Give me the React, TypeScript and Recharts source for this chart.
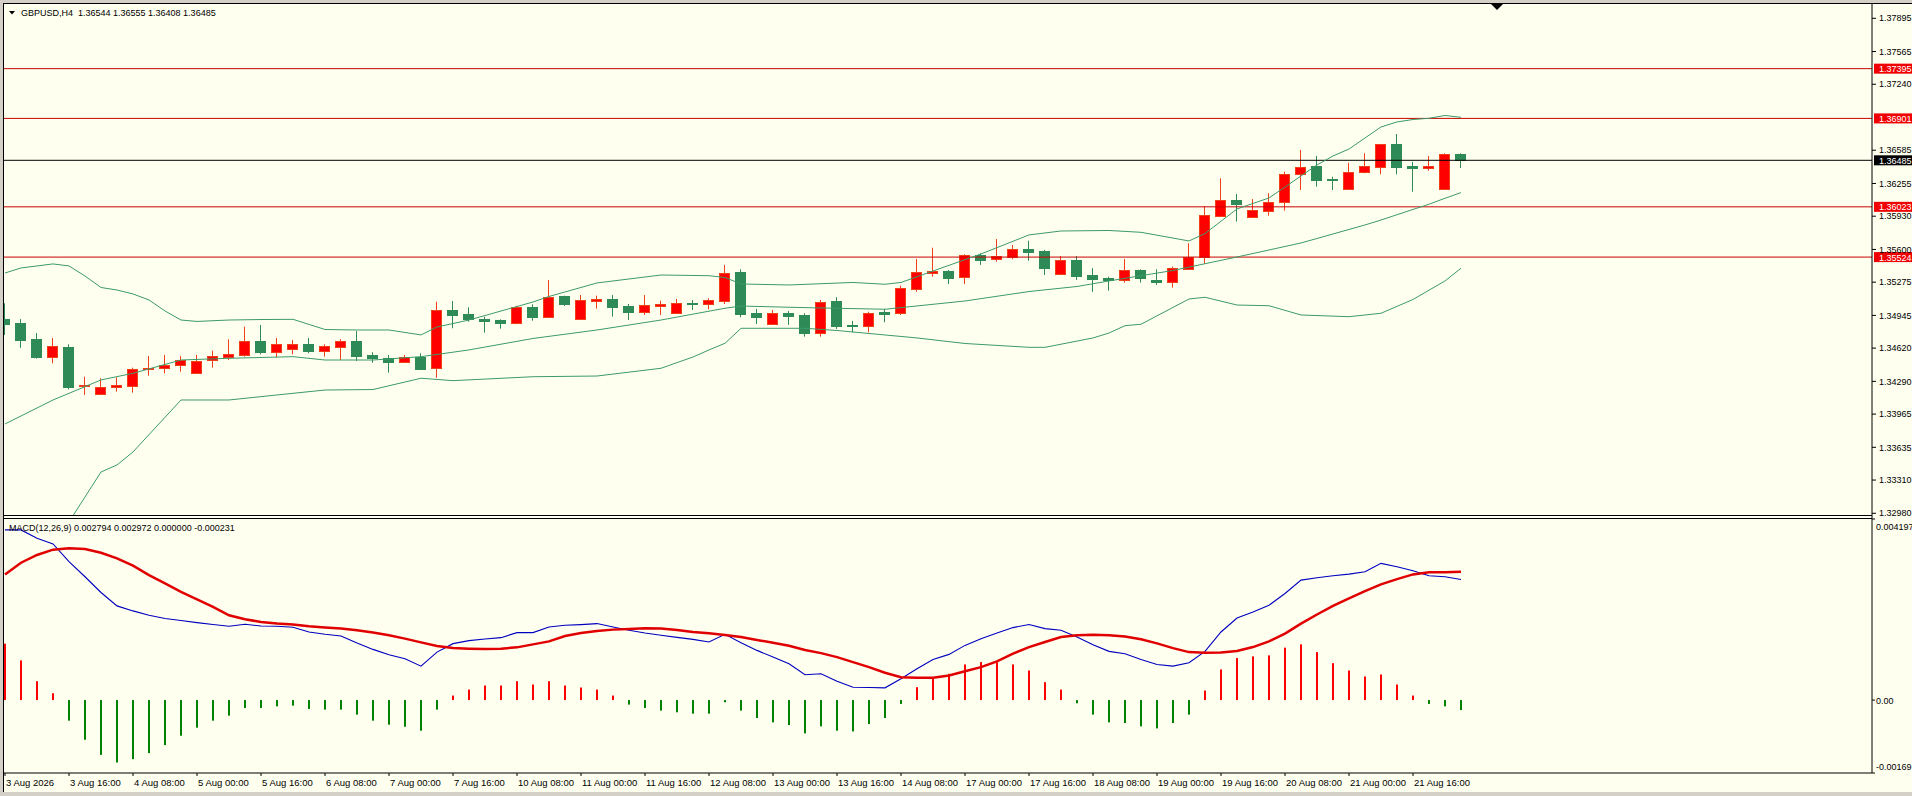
import React from "react";
import { ComposedChart, Bar, Line, XAxis, YAxis, ReferenceLine } from "recharts";

// GBPUSD H4 candles (index 0 = 3 Aug 00:00)
const opens = [
  1.34909, 1.34873, 1.34711, 1.34535, 1.34631, 1.34241, 1.34168, 1.34231, 1.34247, 1.3441,
  1.3442, 1.3445, 1.3437, 1.34502, 1.34535, 1.34555, 1.34691, 1.34585, 1.34609, 1.34661,
  1.34589, 1.34634, 1.34691, 1.34552, 1.34525, 1.34485, 1.34532, 1.3442, 1.34999, 1.34956,
  1.34909, 1.34899, 1.34873, 1.35026, 1.34932, 1.35135, 1.34906, 1.35091, 1.35108, 1.35038,
  1.34982, 1.35041, 1.34972, 1.35071, 1.35061, 1.35091, 1.35376, 1.34966, 1.34857, 1.34969,
  1.34946, 1.34773, 1.35088, 1.3485, 1.34843, 1.34976, 1.34966, 1.35207, 1.35369, 1.35386,
  1.35329, 1.35545, 1.35502, 1.35528, 1.35604, 1.35585, 1.35353, 1.35495, 1.35346, 1.35314,
  1.35297, 1.35396, 1.35297, 1.3528, 1.35406, 1.35522, 1.35935, 1.36091, 1.35925, 1.35985,
  1.36068, 1.36346, 1.36429, 1.36303, 1.36197, 1.36366, 1.36422, 1.36647, 1.36429, 1.36412,
  1.36197, 1.36544,
];
const highs = [
  1.35065, 1.34909, 1.3477, 1.34721, 1.34658, 1.34336, 1.34321, 1.3433, 1.34426, 1.34542,
  1.34552, 1.34542, 1.34552, 1.34595, 1.34708, 1.34833, 1.3485, 1.34721, 1.34701, 1.34721,
  1.34658, 1.34708, 1.3479, 1.34579, 1.34552, 1.34552, 1.34569, 1.35081, 1.35088, 1.35026,
  1.34932, 1.34906, 1.35041, 1.35055, 1.35297, 1.35141, 1.35148, 1.35141, 1.35148, 1.35058,
  1.35148, 1.35091, 1.35108, 1.35098, 1.35115, 1.35446, 1.35403, 1.35009, 1.34999, 1.34989,
  1.34966, 1.35098, 1.35125, 1.3489, 1.34982, 1.35009, 1.3524, 1.35505, 1.35617, 1.35396,
  1.35552, 1.35562, 1.35704, 1.35644, 1.35687, 1.35595, 1.35535, 1.35535, 1.35413, 1.35329,
  1.35505, 1.35403, 1.35403, 1.35429, 1.35661, 1.36031, 1.36307, 1.36151, 1.36101, 1.36158,
  1.36372, 1.36588, 1.36528, 1.36322, 1.36461, 1.36555, 1.36647, 1.36746, 1.36471, 1.36528,
  1.36555, 1.36555,
];
const lows = [
  1.34751, 1.34624, 1.34515, 1.34469, 1.34211, 1.34155, 1.34155, 1.34187, 1.34178, 1.34346,
  1.3437, 1.34386, 1.3437, 1.34426, 1.34502, 1.34535, 1.34559, 1.34529, 1.34559, 1.34569,
  1.34535, 1.34502, 1.34492, 1.34475, 1.34376, 1.34475, 1.34416, 1.34326, 1.34817, 1.34883,
  1.34773, 1.34813, 1.34857, 1.34892, 1.34932, 1.35038, 1.34906, 1.35012, 1.34932, 1.34899,
  1.34949, 1.34949, 1.34972, 1.34999, 1.35006, 1.35058, 1.34926, 1.3486, 1.34857, 1.3485,
  1.34734, 1.34734, 1.3481, 1.34777, 1.34777, 1.34877, 1.34949, 1.3518, 1.35329, 1.35257,
  1.35257, 1.35446, 1.35478, 1.35502, 1.35488, 1.35346, 1.35346, 1.35297, 1.3518, 1.3519,
  1.3527, 1.3527, 1.35247, 1.3522, 1.35396, 1.35456, 1.35935, 1.35876, 1.35925, 1.35935,
  1.35985, 1.3619, 1.36223, 1.3619, 1.36197, 1.36356, 1.36346, 1.36346, 1.36173, 1.36382,
  1.36197, 1.36408,
];
const closes = [
  1.3486, 1.34701, 1.34535, 1.34641, 1.34237, 1.34254, 1.34234, 1.34254, 1.34413, 1.34426,
  1.34453, 1.34502, 1.34495, 1.34542, 1.34562, 1.34691, 1.34585, 1.34661, 1.34661, 1.34595,
  1.34641, 1.34691, 1.34545, 1.34525, 1.34485, 1.34532, 1.34416, 1.34999, 1.34949, 1.34906,
  1.34892, 1.34873, 1.35026, 1.34932, 1.35125, 1.35055, 1.35098, 1.35108, 1.35032, 1.34982,
  1.35045, 1.35055, 1.35065, 1.35061, 1.35095, 1.35363, 1.34959, 1.34926, 1.34966, 1.34942,
  1.34773, 1.35078, 1.3484, 1.34837, 1.34966, 1.34962, 1.35214, 1.35373, 1.35389, 1.35319,
  1.35545, 1.35495, 1.35535, 1.35602, 1.35578, 1.35419, 1.35495, 1.35339, 1.35307, 1.35297,
  1.35396, 1.35314, 1.3528, 1.35413, 1.35522, 1.35942, 1.36091, 1.36048, 1.35992, 1.36068,
  1.36349, 1.36416, 1.3629, 1.3629, 1.36366, 1.36429, 1.36647, 1.36422, 1.36412, 1.36429,
  1.36548, 1.36485,
];

// Bollinger bands, [bar index, price] at the points
const upperBand: [number, number][] = [
  [0, 1.35366], [1, 1.35416], [2, 1.35436], [3, 1.35456], [4, 1.35436], [5, 1.35336],
  [6, 1.35222], [7, 1.35197], [8, 1.35158], [9, 1.35098], [10, 1.34989], [11, 1.34899],
  [12, 1.34885], [14, 1.34899], [16, 1.34904], [18, 1.34906], [20, 1.34805], [22, 1.348],
  [24, 1.348], [26, 1.34751], [27, 1.3483], [29, 1.34899], [33, 1.35078], [34, 1.35133],
  [37, 1.35267], [41, 1.35346], [44, 1.35339], [45, 1.35321], [46, 1.35257], [49, 1.35247],
  [53, 1.35272], [55, 1.35254], [56, 1.35272], [58, 1.35386], [61, 1.35555], [64, 1.35744],
  [66, 1.35783], [69, 1.35788], [71, 1.3577], [74, 1.35684], [75, 1.35758], [77, 1.36002],
  [79, 1.36111], [80, 1.3622], [82, 1.36439], [83, 1.36528], [84, 1.36597], [86, 1.36816],
  [87, 1.36866], [88, 1.3689], [89, 1.36902], [90, 1.3693], [91, 1.36912],
];
const middleBand: [number, number][] = [
  [0, 1.33867], [3, 1.34105], [6, 1.34304], [8, 1.3437], [11, 1.34502], [14, 1.34519],
  [18, 1.34535], [20, 1.34502], [23, 1.34502], [26, 1.34535], [29, 1.34602], [33, 1.34716],
  [37, 1.348], [41, 1.34899], [45, 1.35016], [46, 1.35038], [50, 1.35022], [55, 1.35006],
  [60, 1.35088], [64, 1.35182], [67, 1.35232], [69, 1.35287], [73, 1.35391], [77, 1.35525],
  [81, 1.35664], [85, 1.35843], [86, 1.35892], [88, 1.35997], [89, 1.36049], [90, 1.36108],
  [91, 1.36164],
];
const lowerBand: [number, number][] = [
  [0, 1.32367], [2, 1.32665], [4, 1.32894], [6, 1.3339], [7, 1.3346], [8, 1.33589],
  [11, 1.34105], [14, 1.34105], [17, 1.34155], [20, 1.34204], [23, 1.34209], [26, 1.34321],
  [28, 1.34297], [33, 1.34336], [37, 1.34343], [41, 1.3442], [43, 1.34532], [44, 1.34602],
  [45, 1.34668], [46, 1.34817], [50, 1.34817], [52, 1.34795], [57, 1.34721], [60, 1.34666],
  [64, 1.34628], [65, 1.34628], [68, 1.34721], [69, 1.3477], [70, 1.34843], [71, 1.34857],
  [74, 1.35108], [75, 1.35125], [77, 1.35048], [79, 1.35041], [81, 1.34949], [84, 1.34932],
  [86, 1.34966], [88, 1.35103], [90, 1.35287], [91, 1.35413],
];

// MACD(12,26,9)
const macdMain = [
  0.003944, 0.003944, 0.003751, 0.003618, 0.003207, 0.002858, 0.002494, 0.002183, 0.002067, 0.001966,
  0.00189, 0.001843, 0.001796, 0.00175, 0.00171, 0.001757, 0.001718, 0.00171, 0.001687, 0.001578,
  0.001524, 0.001485, 0.001322, 0.001175, 0.001052, 0.000959, 0.000787, 0.001112, 0.001308, 0.001378,
  0.001415, 0.001447, 0.001564, 0.001564, 0.001694, 0.001734, 0.00175, 0.001773, 0.001694, 0.001617,
  0.001554, 0.001501, 0.001454, 0.001408, 0.001345, 0.001524, 0.001331, 0.001152, 0.000996, 0.000842,
  0.000586, 0.000609, 0.000438, 0.000299, 0.000291, 0.000284, 0.000493, 0.000726, 0.000942, 0.001059,
  0.001268, 0.001424, 0.001554, 0.00168, 0.00175, 0.001657, 0.001617, 0.001461, 0.001284, 0.001129,
  0.001075, 0.000942, 0.000826, 0.000787, 0.000866, 0.001129, 0.001578, 0.001903, 0.002043, 0.002199,
  0.002471, 0.002781, 0.002834, 0.002881, 0.00292, 0.002974, 0.003169, 0.00309, 0.002997, 0.002881,
  0.002858, 0.002794,
];
const macdSignal = [
  0.002913, 0.003184, 0.003363, 0.003486, 0.003518, 0.003502, 0.003416, 0.003286, 0.003114, 0.002897,
  0.002704, 0.002509, 0.002332, 0.002159, 0.001966, 0.001873, 0.00181, 0.001773, 0.00175, 0.00171,
  0.00168, 0.001657, 0.001617, 0.001564, 0.001501, 0.001424, 0.001338, 0.001252, 0.001205, 0.001191,
  0.001182, 0.001191, 0.001222, 0.001291, 0.001361, 0.001485, 0.001554, 0.001601, 0.001633, 0.001648,
  0.001664, 0.001657, 0.001624, 0.001578, 0.001547, 0.001508, 0.001461, 0.001392, 0.001331, 0.001261,
  0.001159, 0.001089, 0.000996, 0.00088, 0.000763, 0.000633, 0.000531, 0.000517, 0.000517, 0.00057,
  0.00067, 0.000763, 0.000896, 0.001075, 0.001229, 0.001345, 0.001461, 0.001501, 0.001517, 0.001501,
  0.001471, 0.001408, 0.001315, 0.001205, 0.001112, 0.001098, 0.001105, 0.001136, 0.001229, 0.001361,
  0.00154, 0.001773, 0.001983, 0.002183, 0.002355, 0.002525, 0.002681, 0.002804, 0.002913, 0.00296,
  0.00296, 0.002972,
];
const macdHist = [
  0.001308, 0.000919, 0.000438, 0.000159, -0.000477, -0.000919, -0.00127, -0.001447, -0.001369, -0.001229,
  -0.001043, -0.000826, -0.00064, -0.000477, -0.000361, -0.000182, -0.000182, -0.000144, -0.000128, -0.000205,
  -0.000221, -0.000221, -0.000337, -0.000477, -0.00057, -0.000617, -0.00071, -0.000221, 0.000105, 0.000244,
  0.000337, 0.000337, 0.000438, 0.000361, 0.000438, 0.000337, 0.000291, 0.000244, 0.000105, -0.000105,
  -0.000182, -0.000244, -0.000283, -0.000314, -0.000314, -0.00005, -0.000244, -0.000415, -0.000516, -0.000578,
  -0.000772, -0.000609, -0.00071, -0.000726, -0.000555, -0.000415, -0.000089, 0.000299, 0.000531, 0.000609,
  0.000826, 0.00088, 0.00088, 0.000826, 0.000686, 0.000415, 0.000244, -0.000074, -0.000337, -0.000516,
  -0.000531, -0.000609, -0.000656, -0.000531, -0.000337, 0.000221, 0.00071, 0.000973, 0.001012, 0.001036,
  0.001215, 0.001291, 0.001112, 0.000856, 0.000686, 0.000547, 0.000593, 0.000361, 0.000105, -0.000089,
  -0.000144, -0.000231,
];

const priceTicks = [
  1.37895, 1.37565, 1.3724, 1.36585, 1.36255, 1.3593, 1.356, 1.35275, 1.34945, 1.3462,
  1.3429, 1.33965, 1.33635, 1.3331, 1.3298,
];
const macdTicks = [0.004197, 0, -0.00169];
const timeLabels = [
  "3 Aug 2026", "3 Aug 16:00", "4 Aug 08:00", "5 Aug 00:00", "5 Aug 16:00", "6 Aug 08:00",
  "7 Aug 00:00", "7 Aug 16:00", "10 Aug 08:00", "11 Aug 00:00", "11 Aug 16:00", "12 Aug 08:00",
  "13 Aug 00:00", "13 Aug 16:00", "14 Aug 08:00", "17 Aug 00:00", "17 Aug 16:00", "18 Aug 08:00",
  "19 Aug 00:00", "19 Aug 16:00", "20 Aug 08:00", "21 Aug 00:00", "21 Aug 16:00",
];
const levels = [1.37395, 1.36901, 1.36023, 1.35524];
const bid = 1.36485;

const FONT = '"Liberation Sans", Arial, sans-serif';
const BG = "#fffff0";
const BULL = "#ff0000";
const BULL_EDGE = "#f0401a";
const BEAR = "#2e8b57";
const BAND = "#3c9a6a";
// one bar = 16px; bar 0 sits 1px inside the left edge of the 1868px plot
const X_DOMAIN: [number, number] = [-0.0625, 116.6875];

function bandAt(points: [number, number][], i: number) {
  const p = points.find((q) => q[0] === i);
  return p ? p[1] : null;
}

const priceData = opens.map((o, i) => ({
  i,
  o,
  h: highs[i],
  l: lows[i],
  c: closes[i],
  range: [lows[i], highs[i]],
  up: bandAt(upperBand, i),
  mid: bandAt(middleBand, i),
  lo: bandAt(lowerBand, i),
}));

const macdData = macdMain.map((m, i) => ({ i, m, s: macdSignal[i], hist: macdHist[i] }));

const timeTickIdx = timeLabels.map((_, k) => k * 4);

function Candle(props: any) {
  const { x, y, width, height, payload } = props;
  if (!payload || x == null) return null;
  const top = Math.min(y, y + height);
  const bottom = Math.max(y, y + height);
  const span = payload.h - payload.l;
  const k = span > 0 ? (bottom - top) / span : 0;
  const py = (p: number) => top + (payload.h - p) * k;
  const cx = Math.floor(x + width / 2) + 0.5;
  const bull = payload.c >= payload.o;
  const bTop = Math.round(py(Math.max(payload.o, payload.c))) + 0.5;
  const bBot = Math.round(py(Math.min(payload.o, payload.c))) + 0.5;
  return (
    <g>
      <line x1={cx} x2={cx} y1={top} y2={bottom} stroke={bull ? BULL_EDGE : BEAR} strokeWidth={1} />
      <rect
        x={cx - 5}
        y={bTop}
        width={10}
        height={Math.max(0, bBot - bTop)}
        fill={bull ? BULL : BEAR}
        stroke={bull ? BULL_EDGE : BEAR}
        strokeWidth={1}
      />
    </g>
  );
}

function HistBar(props: any) {
  const { x, y, width, height, payload } = props;
  if (!payload || x == null) return null;
  const top = Math.min(y, y + height);
  const cx = Math.round(x + width / 2);
  return (
    <rect
      x={cx - 1}
      y={top}
      width={2}
      height={Math.abs(height)}
      fill={payload.hist >= 0 ? "#ff0000" : "#008000"}
    />
  );
}

const priceTag = (text: string, fill: string) => (props: any) => {
  const vb = props.viewBox;
  if (!vb) return null;
  const x0 = vb.x + vb.width + 2;
  const yc = vb.y;
  return (
    <g>
      <rect x={x0} y={yc - 5} width={1912 - x0} height={10} fill={fill} />
      <text x={x0 + 5} y={yc + 3.5} fill="#ffffff" fontSize={9} fontFamily={FONT}>
        {text}
      </text>
    </g>
  );
};

function TimeTick(props: any) {
  const { x, y, payload } = props;
  const label = timeLabels[Math.round(payload.value / 4)];
  return (
    <text x={x + 1} y={y + 8} fontSize={9.5} fontFamily={FONT} fill="#000" textAnchor="start">
      {label}
    </text>
  );
}

function MacdTick(props: any) {
  const { x, y, payload } = props;
  const v = payload.value;
  let text = "0.00";
  let base = y + 3.5;
  if (v > 0) {
    text = "0.004197";
    base = y + 11;
  } else if (v < 0) {
    text = "-0.00169";
    base = y - 3;
  }
  return (
    <text x={x} y={base} fontSize={9} fontFamily={FONT} fill="#000" textAnchor="start">
      {text}
    </text>
  );
}

function PriceChart() {
  return (
    <ComposedChart
      width={1912}
      height={518}
      data={priceData}
      margin={{ top: 4, right: 0, bottom: 3, left: 4 }}
    >
      <XAxis type="number" dataKey="i" domain={X_DOMAIN} allowDataOverflow hide />
      <YAxis
        orientation="right"
        type="number"
        domain={[1.32963, 1.38037]}
        allowDataOverflow
        ticks={priceTicks}
        interval={0}
        width={40}
        tickSize={4}
        tickMargin={3}
        tickFormatter={(v: number) => v.toFixed(5)}
        tick={{ fontSize: 9, fill: "#000", fontFamily: FONT }}
        axisLine={{ stroke: "#000" }}
        tickLine={{ stroke: "#000" }}
      />
      {levels.map((lv) => (
        <ReferenceLine
          key={lv}
          y={lv}
          stroke="#c80000"
          strokeWidth={1}
          label={priceTag(lv.toFixed(5), "#f00000")}
        />
      ))}
      <ReferenceLine y={bid} stroke="#000" strokeWidth={1} label={priceTag(bid.toFixed(5), "#000000")} />
      <Line dataKey="up" type="linear" stroke={BAND} strokeWidth={1} dot={false} connectNulls isAnimationActive={false} />
      <Line dataKey="mid" type="linear" stroke={BAND} strokeWidth={1} dot={false} connectNulls isAnimationActive={false} />
      <Line dataKey="lo" type="linear" stroke={BAND} strokeWidth={1} dot={false} connectNulls isAnimationActive={false} />
      <Bar dataKey="range" barSize={11} shape={Candle} isAnimationActive={false} />
    </ComposedChart>
  );
}

function MacdChart() {
  return (
    <ComposedChart
      width={1912}
      height={279}
      data={macdData}
      margin={{ top: 2, right: 0, bottom: 3, left: 4 }}
    >
      <XAxis
        type="number"
        dataKey="i"
        domain={X_DOMAIN}
        allowDataOverflow
        ticks={timeTickIdx}
        interval={0}
        height={20}
        tickSize={3}
        tick={TimeTick}
        axisLine={{ stroke: "#000" }}
        tickLine={{ stroke: "#000" }}
      />
      <YAxis
        orientation="right"
        type="number"
        domain={[-0.00169, 0.004197]}
        allowDataOverflow
        ticks={macdTicks}
        interval={0}
        width={40}
        tickSize={3}
        tickMargin={1}
        tick={MacdTick}
        axisLine={{ stroke: "#000" }}
        tickLine={{ stroke: "#000" }}
      />
      <Bar dataKey="hist" barSize={2} shape={HistBar} isAnimationActive={false} />
      <Line dataKey="m" type="linear" stroke="#0000c0" strokeWidth={1.1} dot={false} isAnimationActive={false} />
      <Line dataKey="s" type="linear" stroke="#e00000" strokeWidth={2.5} dot={false} isAnimationActive={false} />
    </ComposedChart>
  );
}

export default function App() {
  return (
    <div
      style={{
        position: "fixed",
        left: 0,
        top: 0,
        width: 1912,
        height: 796,
        background: "#d4d0c8",
        overflow: "hidden",
      }}
    >
      <div style={{ position: "absolute", left: 3, top: 3, width: 1909, height: 789, background: BG }} />
      <div style={{ position: "absolute", left: 0, top: 0 }}>
        <PriceChart />
      </div>
      <div style={{ position: "absolute", left: 0, top: 517 }}>
        <MacdChart />
      </div>
      <svg
        width={1912}
        height={796}
        style={{ position: "absolute", left: 0, top: 0, pointerEvents: "none" }}
      >
        <line x1={3} x2={1912} y1={3.5} y2={3.5} stroke="#000" />
        <line x1={3.5} x2={3.5} y1={3} y2={792} stroke="#000" />
        <line x1={3} x2={1872} y1={515.5} y2={515.5} stroke="#000" />
        <line x1={3} x2={1872} y1={518.5} y2={518.5} stroke="#000" />
        <line x1={1872} x2={1872} y1={515} y2={519} stroke="#000" />
        <polygon points="9,11 15,11 12,14.5" fill="#000" />
        <polygon points="1491,4 1503,4 1497,10" fill="#000" />
        <text x={21} y={16} fontSize={9} fontFamily={FONT} fill="#000" style={{ whiteSpace: "pre" }}>
          {"GBPUSD,H4  1.36544 1.36555 1.36408 1.36485"}
        </text>
        <text x={9} y={531} fontSize={9} fontFamily={FONT} fill="#000" style={{ whiteSpace: "pre" }}>
          {"MACD(12,26,9) 0.002794 0.002972 0.000000 -0.000231"}
        </text>
      </svg>
    </div>
  );
}
